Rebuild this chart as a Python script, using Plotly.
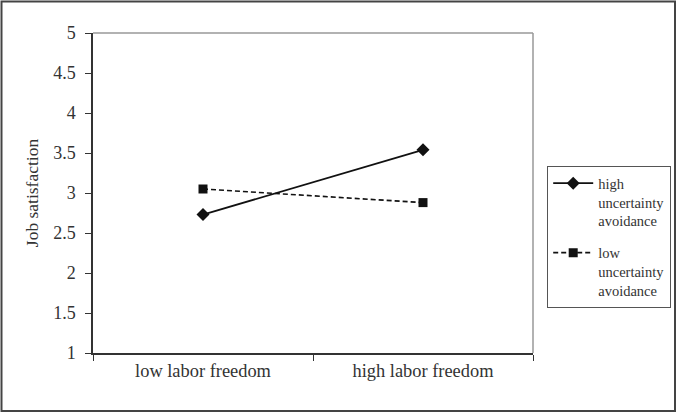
import plotly.graph_objects as go

categories = ["low labor freedom", "high labor freedom"]
high_ua = [2.73, 3.54]
low_ua = [3.05, 2.88]
series_names = ["high<br>uncertainty<br>avoidance", "low<br>uncertainty<br>avoidance"]
y_ticks = [1, 1.5, 2, 2.5, 3, 3.5, 4, 4.5, 5]
y_tick_labels = ["1", "1.5", "2", "2.5", "3", "3.5", "4", "4.5", "5"]

FONT = "Liberation Serif"

fig = go.Figure()
fig.add_trace(go.Scatter(
    x=categories, y=high_ua, name=series_names[0], mode="lines+markers",
    legendgroup="a",
    line=dict(color="#111111", width=1.8),
    marker=dict(symbol="diamond", size=10, color="#111111"),
))
fig.add_trace(go.Scatter(
    x=categories, y=low_ua, name=series_names[1], mode="lines+markers",
    legendgroup="b",
    line=dict(color="#111111", width=1.6, dash="5px,3px"),
    marker=dict(symbol="square", size=9, color="#111111"),
))

W, H = 685, 413
L, R, T, B = 93, 152, 33, 60

fig.update_layout(
    width=W, height=H,
    margin=dict(l=L, r=R, t=T, b=B),
    paper_bgcolor="white", plot_bgcolor="white",
    font=dict(family=FONT, size=17, color="#333333"),
    showlegend=True,
    legend=dict(
        x=(547 - L) / (W - L - R), y=(H - B - 166) / (H - T - B),
        xanchor="left", yanchor="top",
        bordercolor="#555555", borderwidth=1.2,
        font=dict(family=FONT, size=14.5, color="#333333"),
        valign="top", tracegroupgap=10, itemwidth=40,
    ),
    xaxis=dict(
        type="category", tickson="boundaries",
        showline=True, linecolor="#333333", linewidth=1.5,
        ticks="outside", ticklen=6, tickcolor="#333333",
        showgrid=False, zeroline=False,
        range=[-0.5, 1.5],
        tickfont=dict(family=FONT, size=18.4, color="#333333"),
    ),
    yaxis=dict(
        range=[1, 5], tickvals=y_ticks, ticktext=y_tick_labels,
        showline=True, linecolor="#333333", linewidth=1.5,
        ticks="outside", ticklen=6, tickcolor="#333333",
        showgrid=False, zeroline=False,
        title=dict(text="Job satisfaction", standoff=10,
                   font=dict(family=FONT, size=17.5, color="#333333")),
        tickfont=dict(family=FONT, size=18, color="#333333"),
        ticklabelstandoff=6,
    ),
    shapes=[
        dict(type="line", xref="paper", yref="paper", x0=0, x1=1, y0=1, y1=1,
             line=dict(color="#999999", width=1.5)),
        dict(type="line", xref="paper", yref="paper", x0=1, x1=1, y0=0, y1=1,
             line=dict(color="#999999", width=1.5)),
        dict(type="rect", xref="paper", yref="paper",
             x0=(1.5 - L) / (W - L - R), x1=(675 - L) / (W - L - R),
             y0=(H - B - 411) / (H - T - B), y1=(H - B - 1.5) / (H - T - B),
             line=dict(color="#444444", width=2)),
    ],
)

fig.write_html("out.html", config={"displayModeBar": False},
               post_script="document.body.style.margin='0';document.body.style.overflow='hidden';")
